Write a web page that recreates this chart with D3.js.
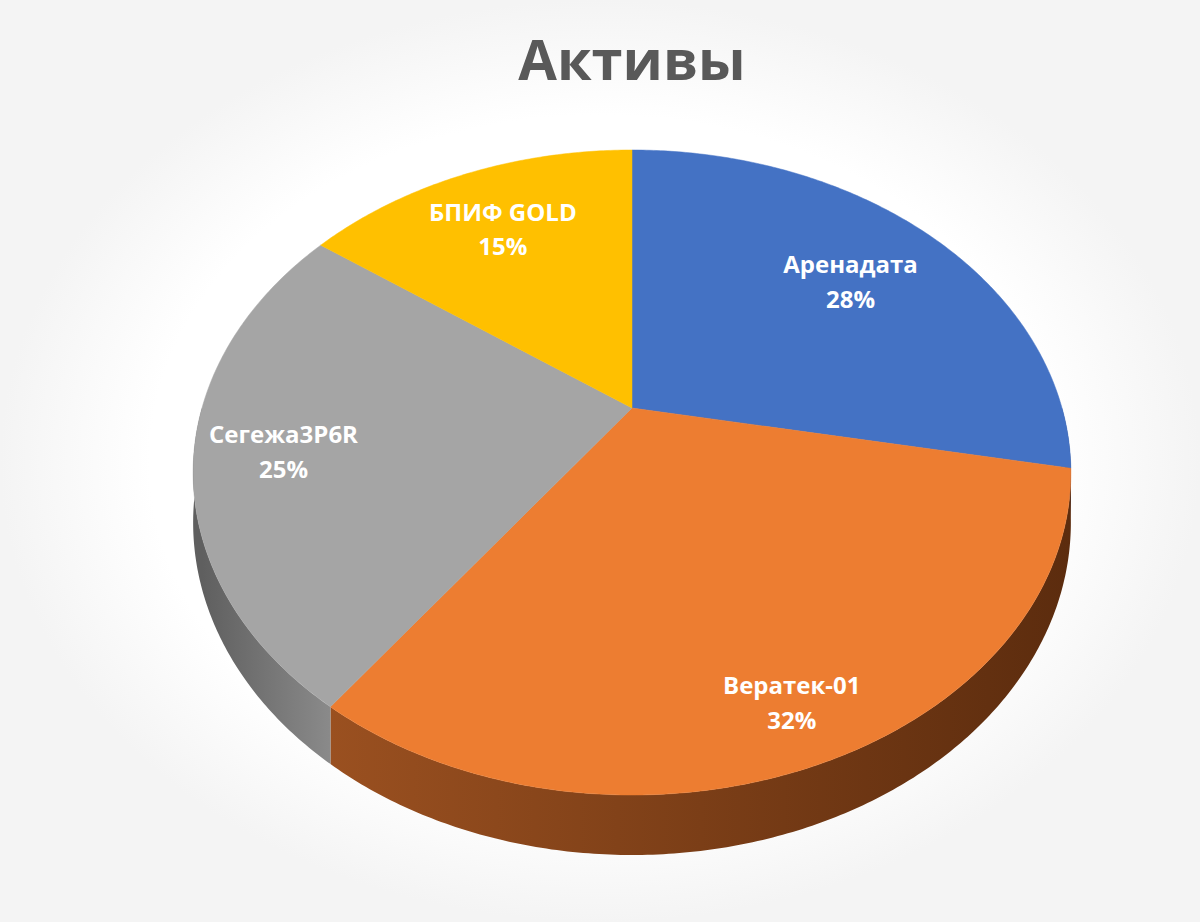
<!DOCTYPE html>
<html>
<head>
<meta charset="utf-8">
<script src="https://cdn.jsdelivr.net/npm/d3@7"></script>
<style>
  body { margin: 0; background: #fff; }
  svg { display: block; }
</style>
</head>
<body>
<div id="chart"></div>
<script>
// chart data
const labels = ['Аренадата', 'Вератек-01', 'Сегежа3Р6R', 'БПИФ GOLD'];
const values = [28, 32, 25, 15];
const colors = ['#4472C4', '#ED7D31', '#A5A5A5', '#FFC000'];
const wallColors = [['#2f4f8a', '#22396a'], ['#9a5020', '#5c2c0e'], ['#8a8a8a', '#5f5f5f'], ['#b08400', '#7a5c00']];
const labelRadius = [0.72, 0.85, 0.8, 0.75]; // where each label sits, fraction of radius

const width = 1200, height = 922;
const cx = 632, cy = 408;       // centre of top face
const rx = 430, ry = 309.6;     // projection scale
const persp = 0.2;              // perspective factor
const depth = 48;               // thickness of the pie

const svg = d3.select('#chart').append('svg')
    .attr('width', width)
    .attr('height', height);

// faint background vignette
const defs = svg.append('defs');
const bg = defs.append('radialGradient').attr('id', 'bg');
bg.append('stop').attr('offset', '75%').attr('stop-color', '#ffffff');
bg.append('stop').attr('offset', '100%').attr('stop-color', '#f4f4f4');
svg.append('rect').attr('width', width).attr('height', height).attr('fill', 'url(#bg)');

// project unit disk point (theta measured clockwise from back) to screen
function project(theta, r, h) {
    const x = Math.sin(theta) * r;
    const y = -Math.cos(theta) * r;
    const k = 1 / (1 - persp * y);
    return [cx + rx * x * k, cy + ry * y * k + (h || 0) * k];
}

const pie = d3.pie().sort(null).value(d => d)
    .startAngle(0).endAngle(2 * Math.PI);
const arcs = pie(values);

function arcPoints(a0, a1, h) {
    const n = Math.max(4, Math.ceil((a1 - a0) / 0.01));
    return d3.range(n + 1).map(i => project(a0 + (a1 - a0) * i / n, 1, h));
}

// outer walls (only the front half is visible)
arcs.forEach((a, i) => {
    const a0 = Math.max(a.startAngle, Math.PI / 2);
    const a1 = Math.min(a.endAngle, 3 * Math.PI / 2);
    if (a1 <= a0) return;
    const grad = defs.append('linearGradient').attr('id', 'wall' + i)
        .attr('gradientUnits', 'userSpaceOnUse')
        .attr('x1', project(a0, 1)[0]).attr('x2', project(a1, 1)[0])
        .attr('y1', 0).attr('y2', 0);
    grad.append('stop').attr('offset', '0%').attr('stop-color', wallColors[i][i === 1 ? 1 : 0]);
    grad.append('stop').attr('offset', '100%').attr('stop-color', wallColors[i][i === 1 ? 0 : 1]);
    const top = arcPoints(a0, a1, 0);
    const bottom = arcPoints(a0, a1, depth).reverse();
    svg.append('path')
        .attr('d', d3.line()(top.concat(bottom)) + 'Z')
        .attr('fill', 'url(#wall' + i + ')');
});

// top faces
arcs.forEach((a, i) => {
    const pts = [[cx, cy]].concat(arcPoints(a.startAngle, a.endAngle, 0));
    svg.append('path')
        .attr('d', d3.line()(pts) + 'Z')
        .attr('fill', colors[i])
        .attr('stroke', colors[i])
        .attr('stroke-width', 0.5);
});

// labels
const total = d3.sum(values);
arcs.forEach((a, i) => {
    const mid = (a.startAngle + a.endAngle) / 2;
    const [lx, ly] = project(mid, labelRadius[i], 0);
    const t = svg.append('text')
        .attr('x', lx).attr('y', ly)
        .attr('text-anchor', 'middle')
        .attr('fill', '#fff')
        .attr('font-family', 'Open Sans, Liberation Sans, sans-serif')
        .attr('font-weight', 'bold')
        .attr('font-size', 24);
    t.append('tspan').attr('x', lx).attr('dy', '-0.2em').text(labels[i]);
    t.append('tspan').attr('x', lx).attr('dy', '1.45em')
        .text(Math.round(values[i] / total * 100) + '%');
});

// title
svg.append('text')
    .attr('x', 632).attr('y', 80)
    .attr('text-anchor', 'middle')
    .attr('fill', '#595959')
    .attr('font-family', 'Open Sans, Liberation Sans, sans-serif')
    .attr('font-weight', 'bold')
    .attr('font-size', 56)
    .text('Активы');
</script>
</body>
</html>
